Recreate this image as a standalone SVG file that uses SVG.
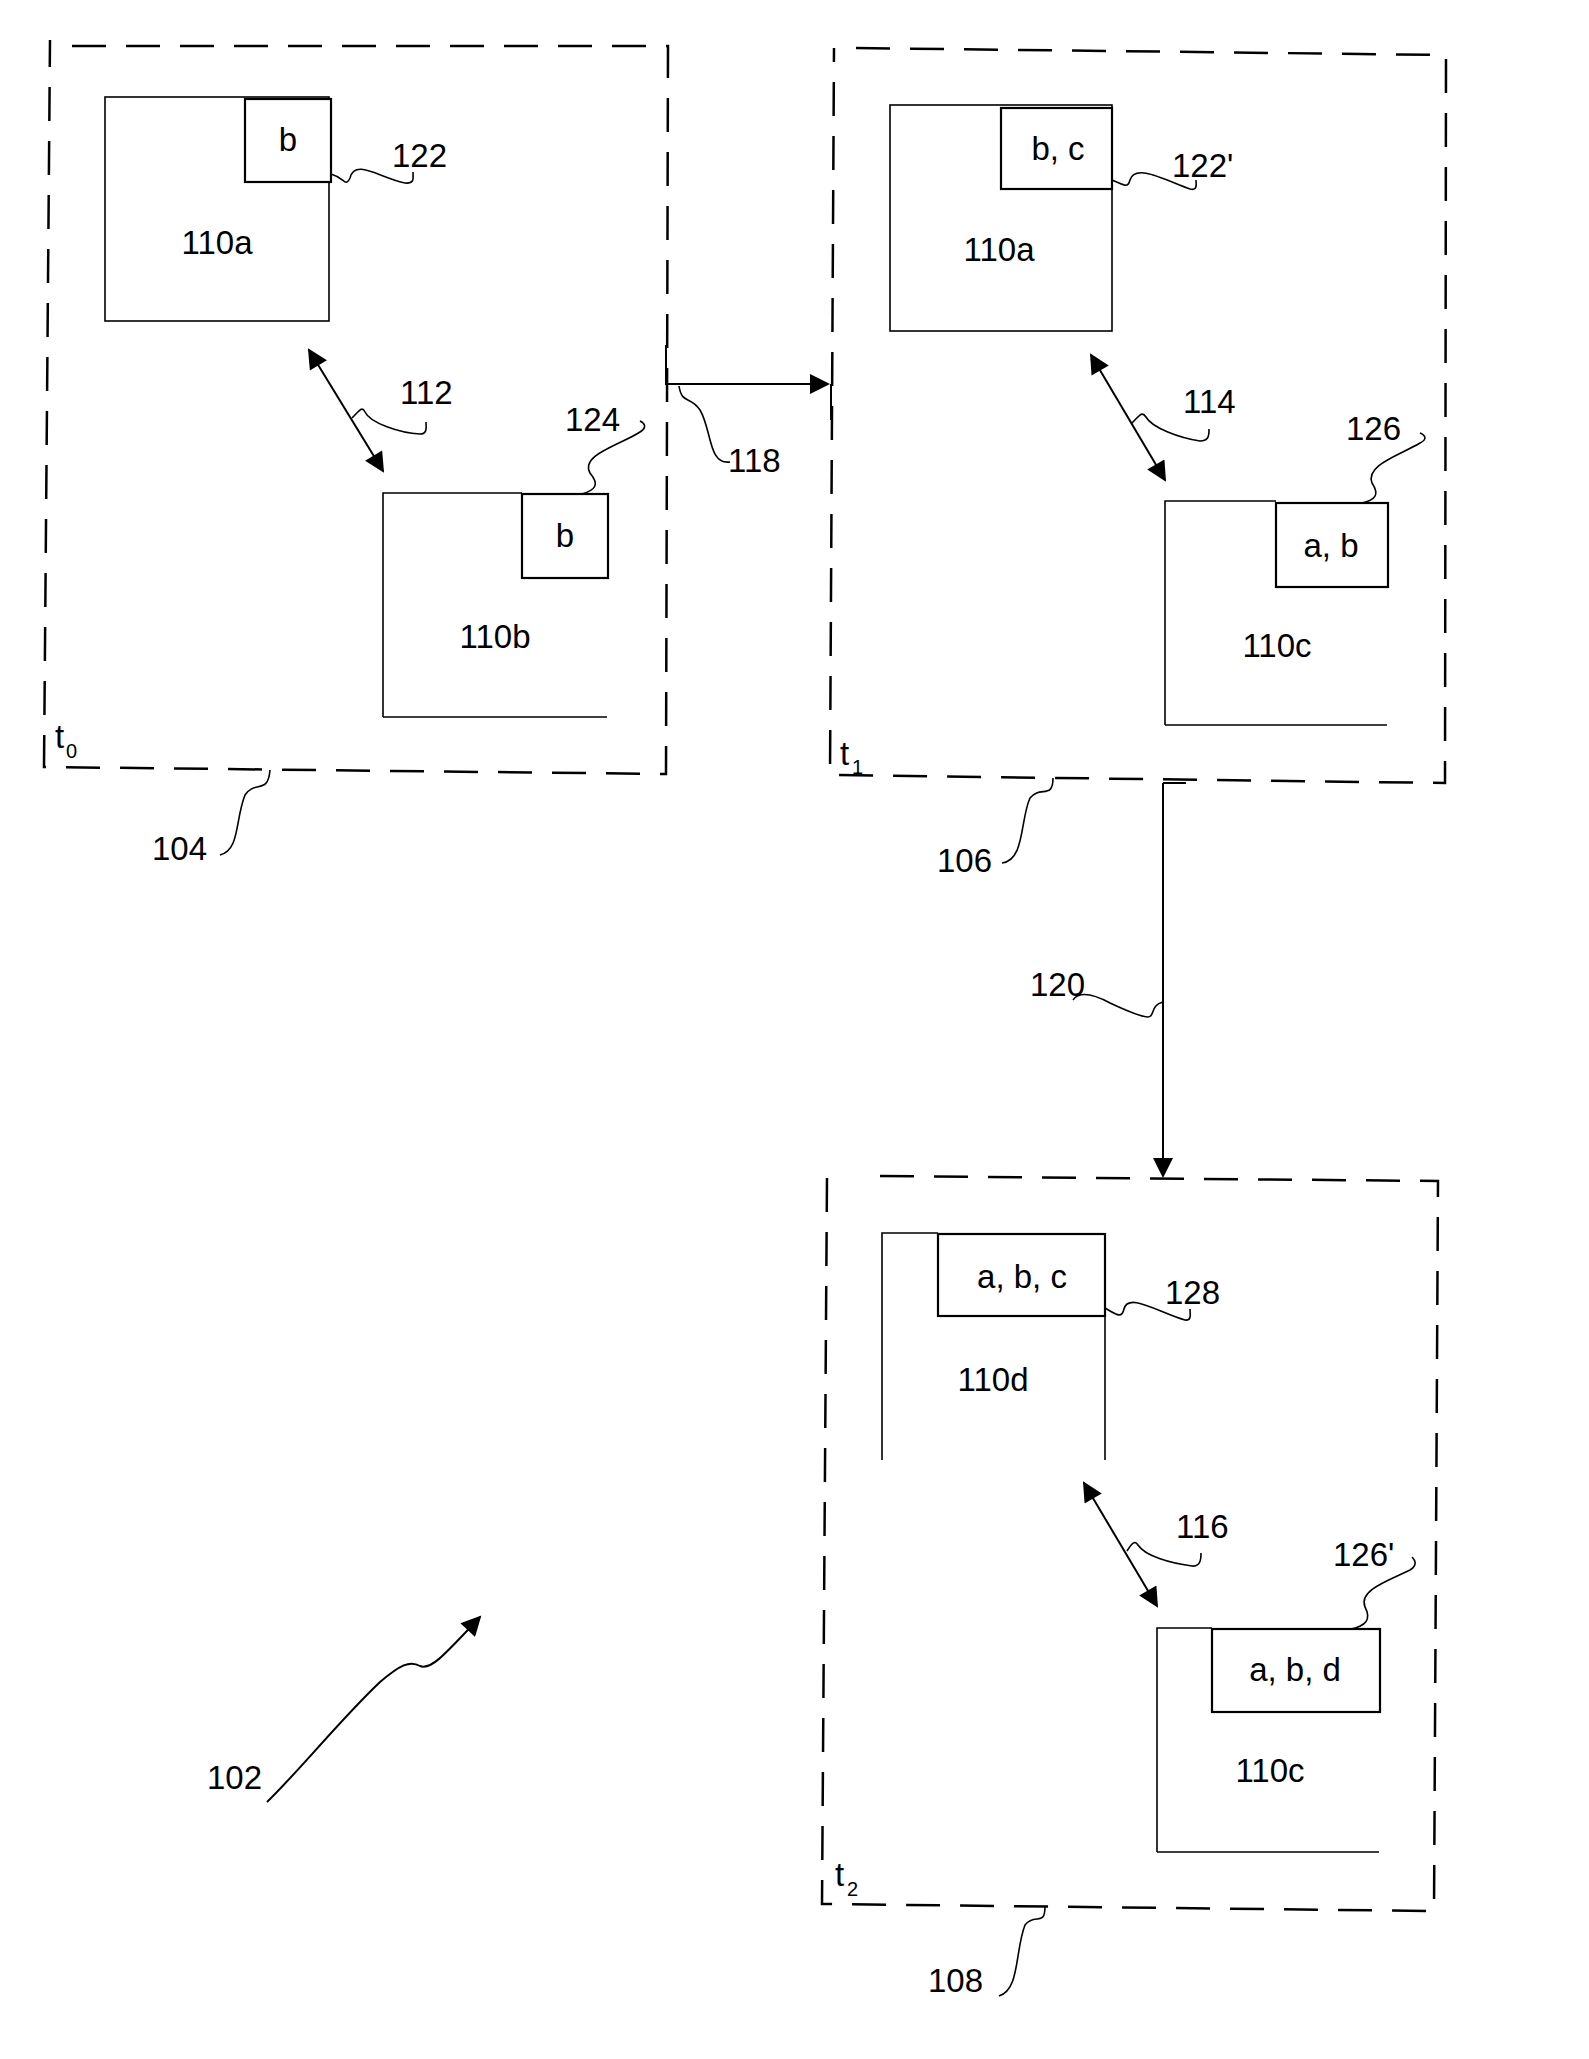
<svg xmlns="http://www.w3.org/2000/svg" width="1589" height="2059" viewBox="0 0 1589 2059">
<style>
.dash{fill:none;stroke:#000;stroke-width:2.5;stroke-dasharray:34 20}
.box{fill:none;stroke:#000;stroke-width:1.6}
.sub{fill:#fff;stroke:#000;stroke-width:2.2}
.sq{fill:none;stroke:#000;stroke-width:1.6}
.ln{fill:none;stroke:#000;stroke-width:2}
text{font-family:"Liberation Sans",Arial,sans-serif;font-size:33px;fill:#000}
.c{text-anchor:middle}
.s{font-size:20px}
</style>
<defs>
<marker id="ah2" viewBox="0 0 10 10" refX="9" refY="5" markerWidth="28" markerHeight="20" markerUnits="userSpaceOnUse" orient="auto-start-reverse"><path d="M0,0 L10,5 L0,10 z" fill="#000"/></marker>
</defs>
<g id="frame104">
<path class="dash" d="M72,46 L668,46 L666,774 L44,767 L50,40"/>
<text x="55" y="748">t</text><text x="66" y="758" class="s">0</text>
<text x="152" y="860">104</text>
<path class="sq" d="M270,770 C268,795 255,780 245,795 C235,820 240,850 220,855"/>
</g>
<g id="node110a_t0">
<rect class="box" x="105" y="97" width="224" height="224"/>
<rect class="sub" x="245" y="99" width="86" height="83"/>
<text class="c" x="288" y="151">b</text>
<text class="c" x="217" y="254">110a</text>
<text x="392" y="167">122</text>
<path class="sq" d="M331,174 C345,178 345,188 350,178 C355,158 380,178 405,183 C415,184 413,178 413,172"/>
</g>
<g id="node110b">
<path class="box" d="M383,717 L383,493 L522,493 M383,717 L607,717"/>
<rect class="sub" x="522" y="494" width="86" height="84"/>
<text class="c" x="565" y="547">b</text>
<text class="c" x="495" y="648">110b</text>
<text x="565" y="431">124</text>
<path class="sq" d="M582,494 C595,490 600,485 590,473 C580,455 620,445 640,432 C648,427 644,423 640,421"/>
</g>
<g id="frame106">
<path class="dash" d="M856,48 L1446,55 L1445,783 L830,775 L834,48"/>
<text x="840" y="765">t</text><text x="852" y="774" class="s">1</text>
<text x="937" y="872">106</text>
<path class="sq" d="M1053,778 C1053,800 1040,785 1030,798 C1020,820 1025,860 1002,863"/>
</g>
<g id="node110a_t1">
<rect class="box" x="890" y="105" width="222" height="226"/>
<rect class="sub" x="1001" y="108" width="111" height="81"/>
<text class="c" x="1058" y="160">b, c</text>
<text class="c" x="999" y="261">110a</text>
<text x="1172" y="177">122'</text>
<path class="sq" d="M1112,180 C1125,186 1128,188 1130,180 C1135,163 1165,180 1190,189 C1198,191 1196,184 1196,180"/>
</g>
<g id="node110c_t1">
<path class="box" d="M1165,725 L1165,501 L1276,501 M1165,725 L1387,725"/>
<rect class="sub" x="1276" y="503" width="112" height="84"/>
<text class="c" x="1331" y="557">a, b</text>
<text class="c" x="1277" y="657">110c</text>
<text x="1346" y="440">126</text>
<path class="sq" d="M1362,503 C1375,500 1380,495 1372,483 C1365,465 1400,455 1420,443 C1428,439 1425,435 1420,433"/>
</g>
<g id="frame108">
<path class="dash" d="M880,1176 L1438,1181 L1434,1911 L822,1904 L827,1176"/>
<text x="835" y="1886">t</text><text x="847" y="1896" class="s">2</text>
<text x="928" y="1992">108</text>
<path class="sq" d="M1045,1906 C1045,1928 1035,1912 1025,1925 C1015,1950 1020,1990 999,1996"/>
</g>
<g id="node110d">
<path class="box" d="M882,1460 L882,1233 L938,1233 M1105,1234 L1105,1460"/>
<rect class="sub" x="938" y="1234" width="167" height="82"/>
<text class="c" x="1022" y="1288">a, b, c</text>
<text class="c" x="993" y="1391">110d</text>
<text x="1165" y="1304">128</text>
<path class="sq" d="M1105,1308 C1118,1316 1122,1318 1124,1309 C1128,1292 1158,1312 1185,1320 C1192,1321 1190,1314 1190,1309"/>
</g>
<g id="node110c_t2">
<path class="box" d="M1157,1852 L1157,1628 L1212,1628 M1157,1852 L1379,1852"/>
<rect class="sub" x="1212" y="1629" width="168" height="83"/>
<text class="c" x="1295" y="1681">a, b, d</text>
<text class="c" x="1270" y="1782">110c</text>
<text x="1333" y="1566">126'</text>
<path class="sq" d="M1351,1629 C1365,1626 1372,1620 1365,1607 C1358,1590 1390,1580 1410,1570 C1418,1565 1415,1560 1412,1557"/>
</g>
<g id="connectors">
<line class="ln" x1="309" y1="350" x2="383" y2="471" marker-start="url(#ah2)" marker-end="url(#ah2)"/>
<text x="400" y="404">112</text>
<path class="sq" d="M352,418 C360,410 362,406 365,412 C370,423 400,433 420,434 C428,434 426,426 426,422"/>
<line class="ln" x1="1091" y1="355" x2="1165" y2="480" marker-start="url(#ah2)" marker-end="url(#ah2)"/>
<text x="1183" y="413">114</text>
<path class="sq" d="M1132,423 C1140,415 1142,411 1146,417 C1152,428 1180,438 1200,441 C1210,441 1209,433 1209,429"/>
<line class="ln" x1="1084" y1="1483" x2="1157" y2="1606" marker-start="url(#ah2)" marker-end="url(#ah2)"/>
<text x="1176" y="1538">116</text>
<path class="sq" d="M1127,1551 C1132,1543 1135,1540 1138,1545 C1145,1556 1170,1563 1192,1566 C1201,1567 1201,1558 1201,1553"/>
<path class="ln" d="M666,345 L666,384 L828,384" marker-end="url(#ah2)"/>
<line class="ln" x1="831" y1="384" x2="831" y2="420"/>
<text x="728" y="472">118</text>
<path class="sq" d="M679,386 C682,405 690,395 700,410 C712,430 708,465 730,462"/>
<path class="ln" d="M1163,783 L1163,1176" marker-end="url(#ah2)"/>
<path class="ln" d="M1163,783 L1186,783"/>
<text x="1030" y="996">120</text>
<path class="sq" d="M1073,1000 C1080,990 1095,995 1110,1003 C1125,1010 1140,1017 1148,1017 C1155,1017 1150,1005 1163,1002"/>
<path class="ln" d="M267,1802 C300,1770 340,1720 380,1682 C400,1665 410,1660 420,1666 C430,1670 440,1660 480,1617" marker-end="url(#ah2)"/>
<text x="207" y="1789">102</text>
</g>
</svg>
